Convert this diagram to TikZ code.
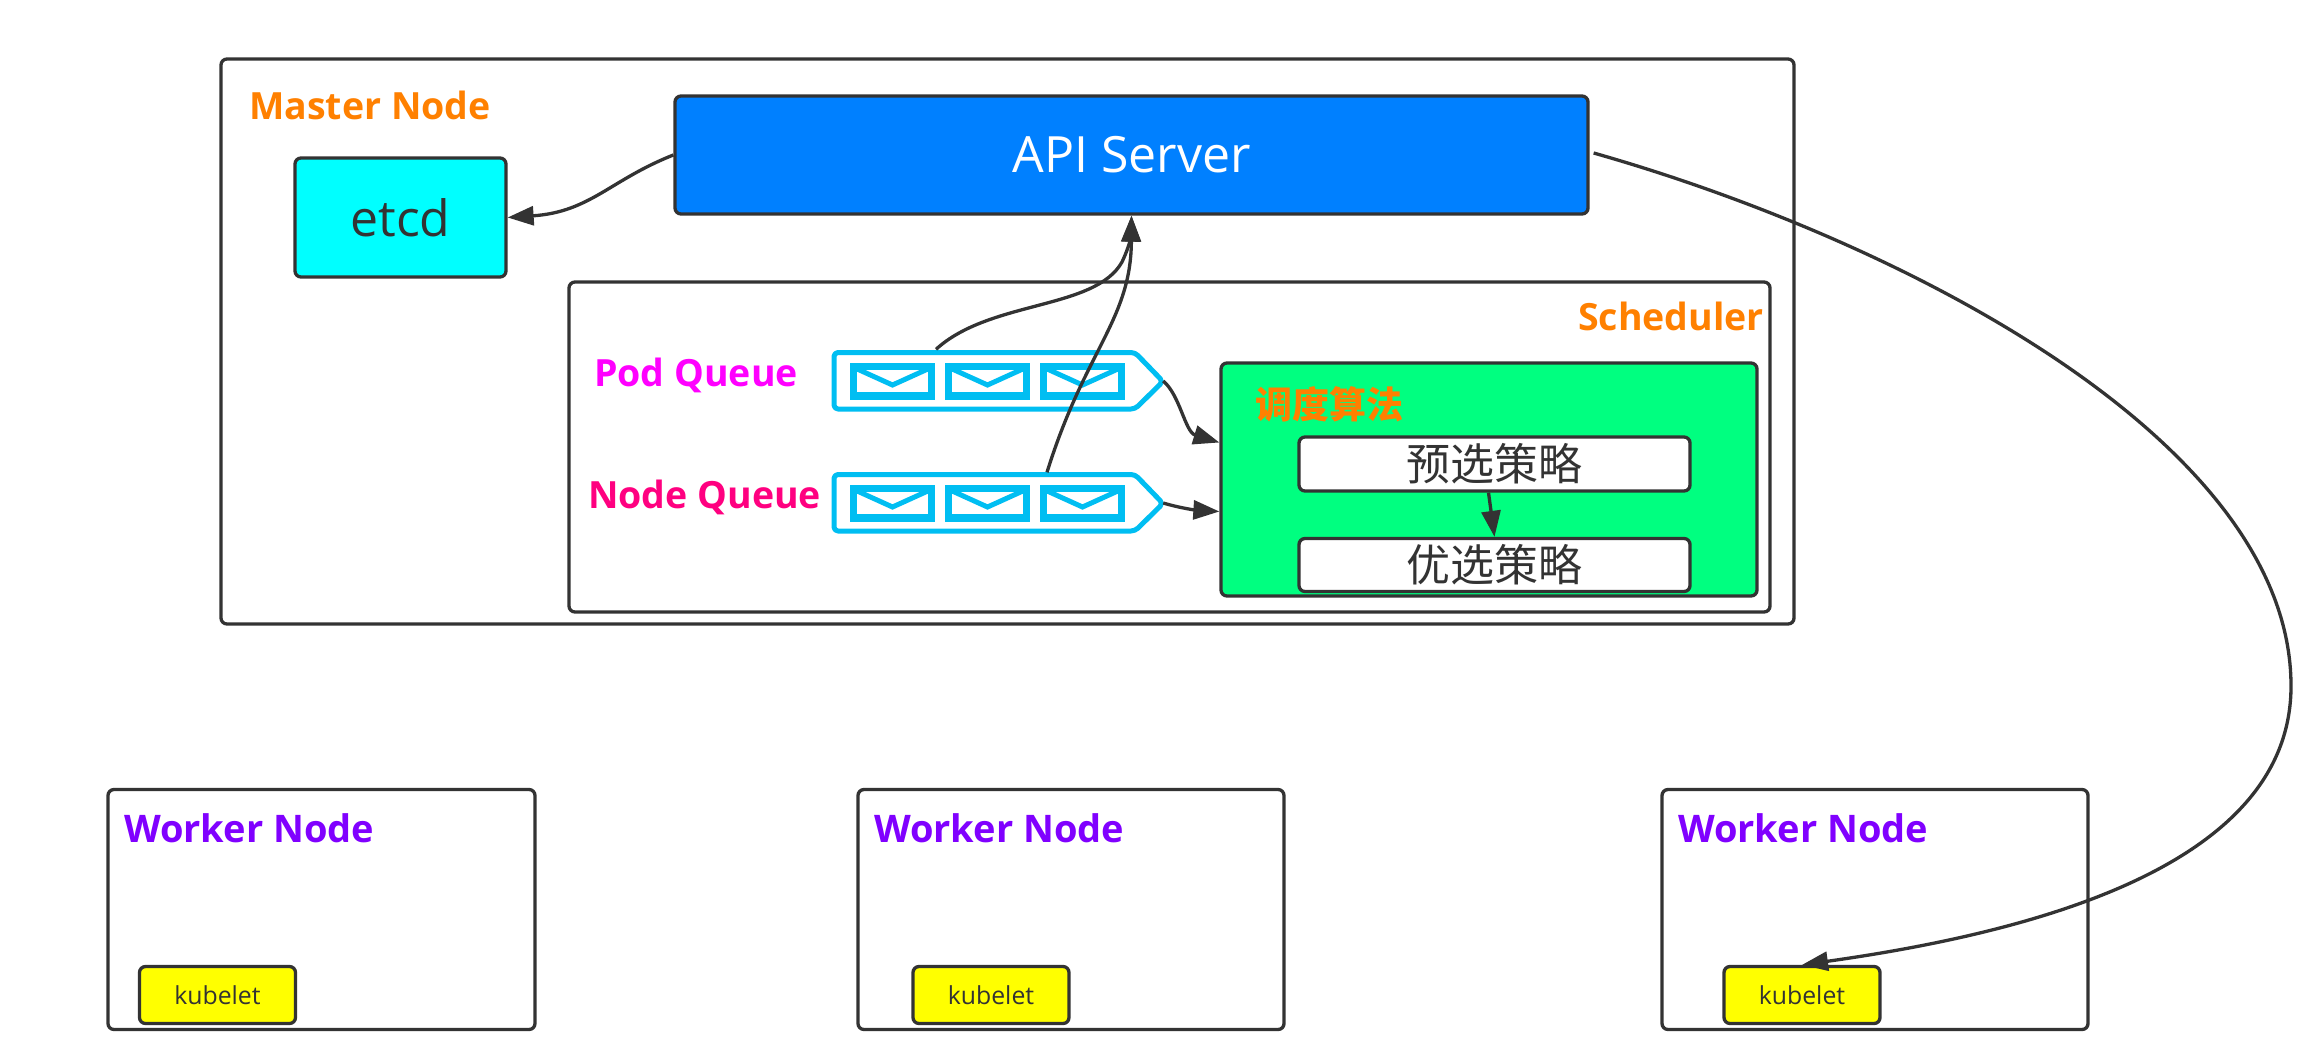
\documentclass[tikz,border=0pt]{standalone}
\usepackage{fontspec}
\setmainfont{Open Sans}
\newfontfamily\cjk{Noto Sans CJK SC}
\usetikzlibrary{arrows.meta,calc}
\definecolor{ink}{HTML}{333333}
\definecolor{apiblue}{HTML}{0080FF}
\definecolor{etcdcyan}{HTML}{00FFFF}
\definecolor{algogreen}{HTML}{00FF80}
\definecolor{kubeyellow}{HTML}{FFFF00}
\definecolor{orangelbl}{HTML}{FF8000}
\definecolor{podlbl}{HTML}{FF00FF}
\definecolor{nodelbl}{HTML}{FF0080}
\definecolor{workerlbl}{HTML}{8000FF}
\definecolor{queuecol}{HTML}{00BEF2}
\tikzset{
  box/.style={draw=ink,line width=3.3pt,rounded corners=6pt,fill=white,inner sep=0pt,text=ink},
  lbl/.style={inner sep=0pt,font=\bfseries\fontsize{#1}{#1}\selectfont},
  conn/.style={draw=ink,line width=3.3pt,-{Triangle[length=26pt,width=19pt]}},
  qframe/.style={draw=queuecol,line width=5pt,rounded corners=4pt,line join=round},
  qmail/.style={draw=queuecol,line width=7.5pt,line join=miter},
  slotq/.style={minimum width=330pt,minimum height=57pt,inner sep=0pt,draw=none}
}
\newcommand{\mailicon}[2]{% x-left, y-top
  \draw[qmail] (#1+3.5,#2+3.5) rectangle (#1+81.5,#2+33);
  \draw[queuecol,line width=5pt] (#1+5,#2+5) -- (#1+42.5,#2+22) -- (#1+80,#2+5);
}
\newcommand{\queueshape}[1]{% y-top of queue
  \draw[qframe,fill=white] (834,#1+0.5) -- (1135,#1+0.5) -- (1163,#1+29.5) -- (1135,#1+57) -- (834,#1+57) -- cycle;
  \mailicon{850}{#1+11}
  \mailicon{945}{#1+11}
  \mailicon{1040}{#1+11}
}
\begin{document}
\begin{tikzpicture}[x=1pt,y=-1pt]
\useasboundingbox[fill=white] (0,0) rectangle (2312,1050);
% containers
\node[box,minimum width=1573pt,minimum height=565pt] (master) at (1007.5,341.5) {};
\node[box,minimum width=1201pt,minimum height=330pt] (sched) at (1169.5,447) {};
\node[box,fill=algogreen,minimum width=536pt,minimum height=233pt] (algo) at (1489,479.5) {};
% main boxes
\node[box,fill=apiblue,text=white,minimum width=913pt,minimum height=118pt,font=\fontsize{50}{50}\selectfont] (api) at (1131.5,155) {\raisebox{-3pt}{API Server}};
\node[box,fill=etcdcyan,minimum width=211pt,minimum height=119pt,font=\fontsize{50}{50}\selectfont] (etcd) at (400.5,217.5) {\raisebox{-3pt}{etcd}};
\node[box,minimum width=391pt,minimum height=54pt,font=\cjk\fontsize{44}{44}\selectfont] (pre) at (1494.5,464) {\raisebox{-1.5pt}{预选策略}};
\node[box,minimum width=391pt,minimum height=53pt,font=\cjk\fontsize{44}{44}\selectfont] (pri) at (1494.5,565) {\raisebox{-1.5pt}{优选策略}};
% queues
\node[slotq] (podq) at (998,380) {};
\node[slotq] (nodeq) at (998,502) {};
\queueshape{352}
\queueshape{474}
% labels
\node[lbl=37.5,text=orangelbl,anchor=west] (tmaster) at (249,105) {Master Node};
\node[lbl=37.5,text=orangelbl,anchor=east] (tsched) at (1764,316) {Scheduler};
\node[lbl=37.5,text=podlbl,anchor=west] (tpod) at (594,375) {Pod Queue};
\node[lbl=37.5,text=nodelbl,anchor=west] (tnode) at (588,497) {Node Queue};
\node[inner sep=0pt,text=orangelbl,font=\cjk\bfseries\fontsize{37}{37}\selectfont,anchor=west] (talgo) at (1255,404) {调度算法};
% workers
\node[box,minimum width=427pt,minimum height=240pt] (w1) at (321.5,909.5) {};
\node[box,minimum width=426pt,minimum height=240pt] (w2) at (1071,909.5) {};
\node[box,minimum width=426pt,minimum height=240pt] (w3) at (1875,909.5) {};
\node[lbl=38,text=workerlbl,anchor=west] (tw1) at (124,828) {Worker Node};
\node[lbl=38,text=workerlbl,anchor=west] (tw2) at (874,828) {Worker Node};
\node[lbl=38,text=workerlbl,anchor=west] (tw3) at (1678,828) {Worker Node};
\foreach \n/\x in {k1/217.5,k2/991,k3/1802}{
  \node[box,fill=kubeyellow,minimum width=156pt,minimum height=57pt,font=\fontsize{24.8}{24.8}\selectfont] (\n) at (\x,995) {kubelet};
}
% connectors
\draw[conn] (api.west) .. controls (610,180) and (590,212) .. (etcd.east);
\draw[conn] ($(podq.north)+(-62,-2)$) .. controls (990,300) and (1095,310) .. (1122,262) .. controls (1130,245) and (1131,235) .. (api.south);
\draw[conn] ($(nodeq.north)+(49,-1)$) .. controls (1085,350) and (1131,320) .. (api.south);
\draw[conn] ($(podq.east)+(0,1)$) .. controls (1180,395) and (1185,432) .. ($(algo.west)+(0,-37)$);
\draw[conn] ($(nodeq.east)+(0,1)$) .. controls (1180,508) and (1195,510) .. ($(algo.west)+(0,32)$);
\draw[conn] ($(pre.south)+(-6,0)$) -- (pri.north);
\draw[conn] ($(api.east)+(4,-2)$) .. controls (1900,240) and (2291,440) .. (2291,686) .. controls (2291,860) and (2050,930) .. (k3.north);
\end{tikzpicture}
\end{document}
